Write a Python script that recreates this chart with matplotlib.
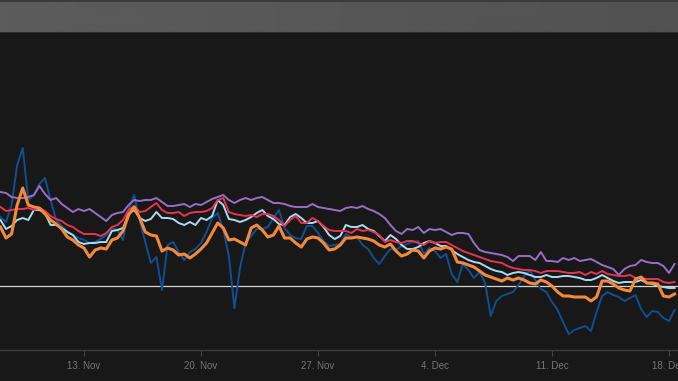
import numpy as np
import pandas as pd
import matplotlib
matplotlib.use("Agg")
import matplotlib.pyplot as plt
import matplotlib.dates as mdates

# 8-hourly readings, starting 8 Nov, heights above the x axis (arbitrary units)
start = "2023-11-08 00:00"

purple = [158, 157, 153, 152, 152, 153, 155, 164, 156, 150,
          152, 146, 142, 138, 141, 139, 141, 137, 133, 129,
          135, 137, 138, 145, 150, 149, 150, 150, 152, 148,
          144, 144, 145, 146, 143, 146, 145, 148, 151, 153,
          155, 150, 147, 150, 152, 150, 152, 153, 150, 147,
          147, 146, 144, 143, 143, 143, 146, 143, 142, 141,
          140, 139, 142, 143, 142, 144, 141, 139, 136, 132,
          125, 119, 116, 121, 120, 123, 117, 121, 120, 121,
          118, 115, 117, 117, 116, 107, 100, 98, 97, 96,
          95, 93, 89, 94, 94, 94, 90, 98, 89, 89,
          88, 92, 90, 92, 89, 90, 91, 88, 85, 83,
          81, 75, 81, 84, 85, 90, 88, 87, 87, 84,
          77, 86]

red = [143, 139, 140, 141, 141, 142, 140, 142, 139, 134,
       131, 129, 125, 123, 119, 116, 116, 116, 114, 117,
       123, 125, 130, 140, 144, 138, 139, 143, 147, 140,
       137, 137, 138, 134, 137, 138, 138, 139, 142, 150,
       152, 138, 136, 135, 134, 135, 133, 136, 136, 134,
       130, 124, 130, 134, 127, 127, 132, 129, 124, 120,
       119, 119, 119, 117, 121, 119, 120, 118, 115, 108,
       110, 108, 107, 109, 109, 107, 105, 109, 107, 108,
       108, 105, 102, 99, 97, 95, 93, 91, 89, 88,
       87, 84, 82, 81, 80, 80, 79, 77, 79, 79,
       79, 78, 77, 77, 78, 75, 78, 76, 79, 76,
       75, 74, 74, 75, 72, 72, 71, 71, 71, 68,
       67, 68]

light_blue = [130, 121, 124, 130, 132, 130, 140, 140, 137, 125,
              125, 122, 118, 115, 108, 106, 107, 107, 108, 108,
              119, 120, 122, 136, 140, 132, 129, 131, 138, 132,
              132, 131, 127, 125, 128, 125, 132, 130, 134, 150,
              145, 131, 130, 128, 130, 133, 137, 140, 134, 131,
              126, 125, 133, 136, 132, 127, 127, 129, 123, 115,
              111, 114, 125, 123, 123, 125, 121, 119, 114, 109,
              115, 111, 105, 101, 101, 103, 107, 109, 107, 104,
              104, 100, 96, 93, 90, 88, 87, 84, 81, 79,
              78, 75, 77, 78, 77, 75, 73, 73, 75, 73,
              73, 74, 74, 73, 72, 70, 70, 72, 75, 72,
              69, 67, 68, 68, 68, 70, 67, 66, 64, 63,
              62, 62]

orange = [123, 112, 116, 145, 162, 145, 143, 142, 136, 130,
          126, 121, 113, 110, 105, 102, 93, 100, 102, 101,
          110, 112, 119, 135, 143, 132, 118, 115, 114, 99,
          102, 100, 95, 96, 92, 96, 101, 107, 117, 127,
          122, 110, 111, 108, 105, 122, 125, 120, 113, 115,
          124, 112, 112, 107, 103, 111, 113, 112, 107, 100,
          101, 105, 112, 112, 113, 112, 111, 109, 105, 103,
          106, 99, 94, 96, 100, 99, 92, 99, 102, 101,
          103, 101, 88, 87, 85, 83, 79, 75, 73, 71,
          69, 72, 70, 72, 70, 67, 66, 70, 68, 64,
          58, 54, 54, 53, 53, 53, 49, 53, 69, 69,
          66, 62, 60, 59, 71, 73, 67, 67, 66, 54,
          53, 56]

dark_blue = [133, 128, 145, 185, 202, 150, 155, 166, 172, 150,
             130, 124, 119, 115, 112, 110, 107, 108, 111, 115,
             122, 120, 110, 140, 155, 129, 108, 87, 93, 60,
             105, 108, 98, 90, 98, 101, 107, 118, 132, 137,
             120, 94, 42, 82, 107, 114, 121, 121, 123, 132,
             140, 122, 115, 112, 111, 124, 124, 117, 109, 104,
             105, 106, 116, 113, 113, 105, 101, 92, 86, 94,
             101, 100, 104, 106, 108, 109, 96, 102, 99, 92,
             96, 76, 68, 86, 80, 72, 78, 67, 34, 49,
             54, 56, 58, 65, 74, 80, 70, 61, 58, 48,
             40, 28, 16, 20, 22, 24, 19, 38, 54, 58,
             55, 53, 49, 52, 55, 41, 33, 39, 38, 32,
             29, 40]

threshold = 64
tick_dates = ["2023-11-13", "2023-11-20", "2023-11-27", "2023-12-04", "2023-12-11", "2023-12-18"]

bg = "#181818"
W, H = 678, 381
fig = plt.figure(figsize=(W / 100, H / 100), dpi=100, facecolor=bg)

# grey title strip at the top
hdr = fig.add_axes([0, 1 - 33 / H, 1, 33 / H])
grad = np.linspace(0.36, 0.32, 256).reshape(1, -1)
hdr.imshow(grad, aspect="auto", cmap="gray", vmin=0, vmax=1, extent=[0, 1, 0, 1])
hdr.axhline(1, color="#3a3a3a", lw=2)
hdr.axhline(0, color="#2e2e2e", lw=1.5)
hdr.set_xlim(0, 1)
hdr.set_ylim(0, 1)
hdr.axis("off")

ax = fig.add_axes([0, 1 - 350 / H, 1, (350 - 33) / H])
ax.set_facecolor(bg)

series = [
    (dark_blue, "#0f4f92", 1.4),
    (purple, "#9a6dc9", 1.4),
    (light_blue, "#a9dcf3", 1.4),
    (red, "#e6344f", 1.4),
    (orange, "#f5893a", 2.2),
]
for vals, col, lw in series:
    t = pd.date_range(start, periods=len(vals), freq="8h")
    ax.plot(t, vals, color=col, lw=lw, solid_joinstyle="round")

ax.axhline(threshold, color="#d4d4d4", lw=0.9, zorder=1)

t0 = pd.Timestamp("2023-11-13")
ax.set_xlim(t0 - pd.Timedelta(days=5.026), t0 + pd.Timedelta(days=35.54))
ax.set_ylim(0, 317)

ax.set_xticks(pd.to_datetime(tick_dates))
ax.xaxis.set_major_formatter(mdates.DateFormatter("%-d. %b"))
ax.set_yticks([])
for s in ["top", "left", "right"]:
    ax.spines[s].set_visible(False)
ax.spines["bottom"].set_color("#3c3c3c")
ax.spines["bottom"].set_linewidth(1)
ax.tick_params(axis="x", direction="out", length=4, width=0.8, color="#444444",
               labelcolor="#767676", labelsize=7, pad=4)
for lab in ax.get_xticklabels():
    lab.set_fontfamily("Liberation Sans")

fig.savefig("out.png", dpi=100, facecolor=bg)
